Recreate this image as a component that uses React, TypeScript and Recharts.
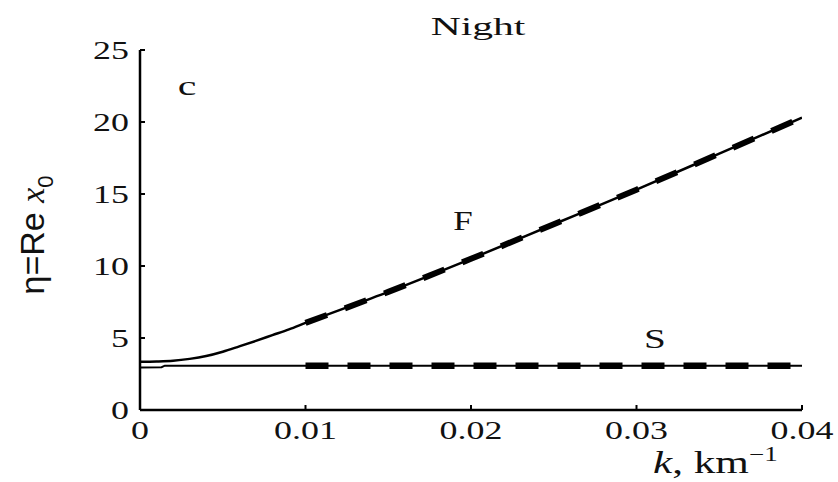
import React from "react";
import { LineChart, Line, XAxis, YAxis } from "recharts";

// wave number k (km^-1) and eta for the fast (F) and slow (S) branches
const fK = [0, 0.001, 0.002, 0.003, 0.004, 0.005, 0.006, 0.007, 0.008, 0.009, 0.01, 0.015, 0.02, 0.025, 0.03, 0.035, 0.04];
const fEta = [3.35, 3.37, 3.42, 3.55, 3.75, 4.05, 4.42, 4.8, 5.2, 5.6, 6.05, 8.2, 10.5, 12.9, 15.3, 17.8, 20.3];

const sK = [0, 0.0013, 0.0015, 0.01, 0.04];
const sEta = [2.95, 2.97, 3.08, 3.08, 3.08];

const xTicks = [0, 0.01, 0.02, 0.03, 0.04];
const xTickLabels = ["0", "0.01", "0.02", "0.03", "0.04"];
const yTicks = [0, 5, 10, 15, 20, 25];

const fData = fK.map((k, i) => ({ k, v: fEta[i] }));
const sData = sK.map((k, i) => ({ k, v: sEta[i] }));
// thick dashed parts start at k = 0.01
const fDash = fData.filter((d) => d.k >= 0.01);
const sDash = sData.filter((d) => d.k >= 0.01);

const SERIF = "'Liberation Serif', 'Times New Roman', serif";
const SANS = "'Liberation Sans', Arial, sans-serif";

const YTick = (props: any) => {
  const { x, y, payload } = props;
  return (
    <g>
      {payload.value !== 0 && <line x1={x} y1={y} x2={x + 5} y2={y} stroke="#000" strokeWidth={2} />}
      <text
        transform={`translate(${x - 11},${y + 9}) scale(1.38,1)`}
        textAnchor="end"
        fontFamily={SERIF}
        fontSize={26}
        fill="#111"
      >
        {payload.value}
      </text>
    </g>
  );
};

const XTick = (props: any) => {
  const { x, y, payload } = props;
  const idx = xTicks.indexOf(payload.value);
  return (
    <g>
      {payload.value !== 0 && <line x1={x} y1={y} x2={x} y2={y - 5} stroke="#000" strokeWidth={2} />}
      <text
        transform={`translate(${x},${y + 29}) scale(1.38,1)`}
        textAnchor="middle"
        fontFamily={SERIF}
        fontSize={26}
        fill="#111"
      >
        {idx >= 0 ? xTickLabels[idx] : payload.value}
      </text>
    </g>
  );
};

export default function App() {
  return (
    <div style={{ position: "absolute", left: 0, top: 0, width: 838, height: 482, background: "#fff" }}>
      <LineChart width={838} height={482} margin={{ top: 50, right: 36, bottom: 0, left: 0 }}>
        <XAxis
          type="number"
          dataKey="k"
          domain={[0, 0.04]}
          ticks={xTicks}
          interval={0}
          height={72}
          tickSize={0}
          tickMargin={0}
          tick={<XTick />}
          axisLine={{ stroke: "#000", strokeWidth: 2.5 }}
          allowDataOverflow
        />
        <YAxis
          type="number"
          domain={[0, 25]}
          ticks={yTicks}
          interval={0}
          width={140}
          tickSize={0}
          tickMargin={0}
          tick={<YTick />}
          axisLine={{ stroke: "#000", strokeWidth: 2.5 }}
          allowDataOverflow
        />
        <Line data={sData} dataKey="v" type="linear" stroke="#000" strokeWidth={2} dot={false} isAnimationActive={false} />
        <Line data={fData} dataKey="v" type="monotone" stroke="#000" strokeWidth={2.5} dot={false} isAnimationActive={false} />
        <Line
          data={sDash}
          dataKey="v"
          type="linear"
          stroke="#000"
          strokeWidth={6.5}
          strokeDasharray="23 19"
          dot={false}
          isAnimationActive={false}
        />
        <Line
          data={fDash}
          dataKey="v"
          type="monotone"
          stroke="#000"
          strokeWidth={6}
          strokeDasharray="23 19"
          dot={false}
          isAnimationActive={false}
        />
      </LineChart>
      <svg width={838} height={482} style={{ position: "absolute", left: 0, top: 0, pointerEvents: "none" }}>
        <text transform="translate(478,35) scale(1.6,1)" textAnchor="middle" fontFamily={SERIF} fontSize={26} fill="#111">
          Night
        </text>
        <text transform="translate(187,95) scale(1.5,1)" textAnchor="middle" fontFamily={SERIF} fontSize={28} fill="#111">
          c
        </text>
        <text transform="translate(463,230) scale(1.25,1)" textAnchor="middle" fontFamily={SERIF} fontSize={28} fill="#111">
          F
        </text>
        <text transform="translate(655,348) scale(1.4,1)" textAnchor="middle" fontFamily={SERIF} fontSize={28} fill="#111">
          S
        </text>
        <text transform="translate(44,235) rotate(-90)" textAnchor="middle" fontFamily={SANS} fontSize={34} fill="#111">
          η=Re <tspan fontFamily={SERIF} fontStyle="italic">x</tspan>
          <tspan fontSize={22} dy={9}>0</tspan>
        </text>
        <text transform="translate(653,473) scale(1.35,1)" textAnchor="start" fontFamily={SERIF} fontSize={32} fill="#111">
          <tspan fontStyle="italic">k</tspan>, km
          <tspan fontSize={20} dy={-12}>−1</tspan>
        </text>
      </svg>
    </div>
  );
}
